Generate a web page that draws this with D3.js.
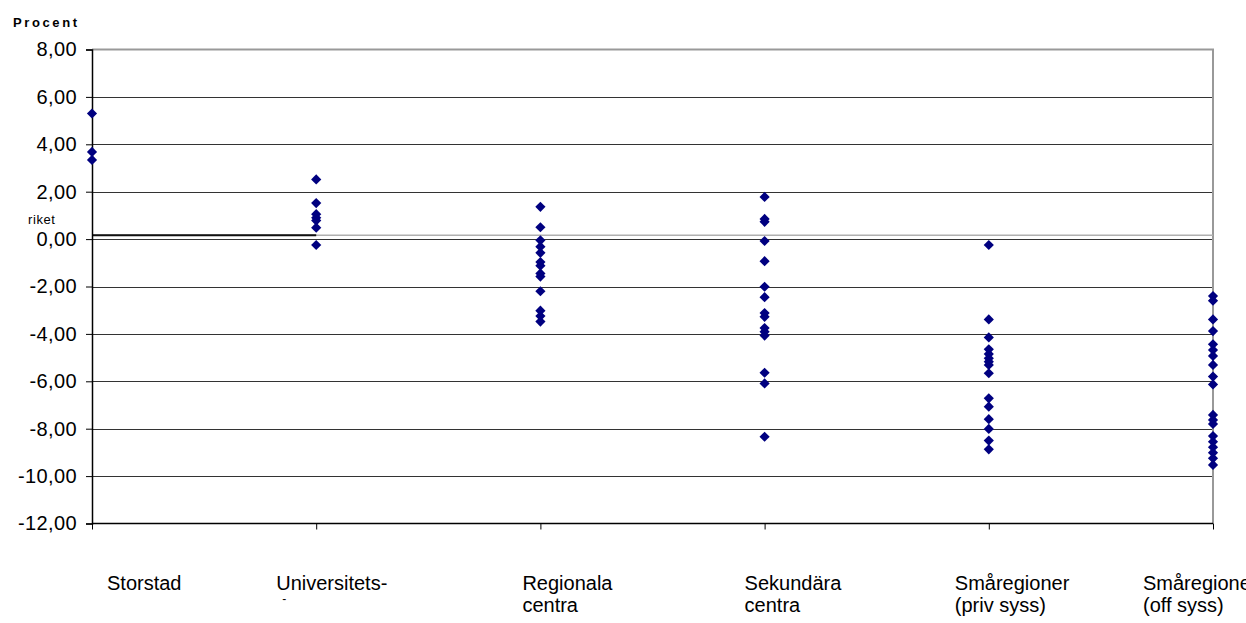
<!DOCTYPE html>
<html><head><meta charset="utf-8">
<script src="https://cdn.jsdelivr.net/npm/d3@7"></script>
<style>
html,body{margin:0;padding:0;background:#fff;}
svg{display:block;font-family:"Liberation Sans",Arial,sans-serif;}
</style></head>
<body><svg id="c" width="1246" height="623"></svg>
<script>
// ---- data ----
const categories = ["Storstad", "Universitets", "Regionala", "Sekundära", "SmåregPriv", "SmåregOff"];
const labelLines = [["Storstad"], ["Universitets-", "-"], ["Regionala", "centra"], ["Sekundära", "centra"], ["Småregioner", "(priv syss)"], ["Småregioner", "(off syss)"]];
const storstad = [5.30, 3.68, 3.34];
const universitets = [2.52, 1.52, 1.05, 0.90, 0.78, 0.48, -0.25];
const regionala = [1.36, 0.50, -0.05, -0.32, -0.58, -0.97, -1.12, -1.45, -1.58, -2.20, -3.02, -3.25, -3.48];
const sekundara = [1.78, 0.85, 0.73, -0.08, -0.93, -2.01, -2.45, -3.12, -3.28, -3.75, -3.91, -4.07, -5.64, -6.09, -8.34];
const smaregPriv = [-0.25, -3.39, -4.15, -4.65, -4.85, -5.03, -5.17, -5.31, -5.66, -6.72, -7.07, -7.60, -8.01, -8.50, -8.87];
const smaregOff = [-2.40, -2.60, -3.39, -3.88, -4.44, -4.68, -4.93, -5.31, -5.80, -6.13, -7.42, -7.63, -7.80, -8.31, -8.55, -8.78, -9.01, -9.25, -9.53];
const riket = 0.16;
const yTicks = [8, 6, 4, 2, 0, -2, -4, -6, -8, -10, -12];

const seriesByCat = [storstad, universitets, regionala, sekundara, smaregPriv, smaregOff];

// ---- layout ----
const L = 92, R = 1213, T = 49.5, B = 523.5;
const svg = d3.select("#c");
const x = d3.scalePoint().domain(categories).range([L, R]);
const y = d3.scaleLinear().domain([-12, 8]).range([B, T]);

// gridlines
svg.append("g").selectAll("line").data(yTicks.filter(v => v !== 8 && v !== -12)).join("line")
  .attr("x1", L).attr("x2", R).attr("y1", d => Math.round(y(d)) + 0.5).attr("y2", d => Math.round(y(d)) + 0.5)
  .attr("stroke", "#333").attr("stroke-width", 1);

// plot border (top & right gray)
svg.append("path").attr("d", `M${L},${T}H${R}V${B}`).attr("fill", "none").attr("stroke", "#999").attr("stroke-width", 2);

// riket line
svg.append("line").attr("x1", L).attr("x2", R).attr("y1", y(riket)).attr("y2", y(riket))
  .attr("stroke", "#b0b0b0").attr("stroke-width", 1.5);
svg.append("line").attr("x1", x(categories[0])).attr("x2", x(categories[1])).attr("y1", y(riket)).attr("y2", y(riket))
  .attr("stroke", "#111").attr("stroke-width", 2);

// y axis
const yAxis = d3.axisLeft(y).tickValues(yTicks).tickSize(6).tickPadding(9)
  .tickFormat(d => d3.format(".2f")(d).replace(".", ",").replace("−", "-"));
const gy = svg.append("g").attr("transform", `translate(${L},0)`).call(yAxis);
gy.select(".domain").attr("stroke", "#000").attr("stroke-width", 1.5);
gy.selectAll(".tick line").attr("stroke", "#000");
gy.selectAll(".tick text").attr("font-size", 20).attr("fill", "#000")
  .attr("font-family", "'Liberation Sans',Arial,sans-serif").attr("letter-spacing", "0.4px");

// x axis
const xAxis = d3.axisBottom(x).tickSize(6).tickFormat("");
const gx = svg.append("g").attr("transform", `translate(0,${B})`).call(xAxis);
gx.select(".domain").attr("stroke", "#000").attr("stroke-width", 1.5).attr("d", `M${L},0H${R}`);
gx.selectAll(".tick line").attr("stroke", "#000");

// category labels
const labelDx = [15, -40, -18, -20, -34, -70];
const lab = svg.append("g").attr("font-size", 20).attr("fill", "#000");
categories.forEach((c, i) => {
  const t = lab.append("text").attr("x", x(c) + labelDx[i]).attr("y", 590);
  labelLines[i].forEach((ln, j) => {
    const small = i === 1 && j === 1;
    t.append("tspan").attr("x", x(c) + labelDx[i] + (small ? 6 : 0)).attr("dy", j === 0 ? 0 : (small ? 13 : 22))
      .attr("font-size", small ? 12 : 20).text(ln);
  });
});

// points
const sym = d3.symbol().type(d3.symbolSquare).size(52);
categories.forEach((c, i) => {
  svg.append("g").selectAll("path").data(seriesByCat[i]).join("path")
    .attr("d", sym)
    .attr("transform", d => `translate(${x(c)},${y(d)}) rotate(45)`)
    .attr("fill", "#000080");
});

// titles
svg.append("text").attr("x", 13).attr("y", 27).attr("font-size", 13).attr("font-weight", "bold")
  .attr("letter-spacing", "2.6px").text("Procent");
svg.append("text").attr("x", 28).attr("y", 224).attr("font-size", 13).attr("letter-spacing", "0.6px").text("riket");
</script></body></html>
